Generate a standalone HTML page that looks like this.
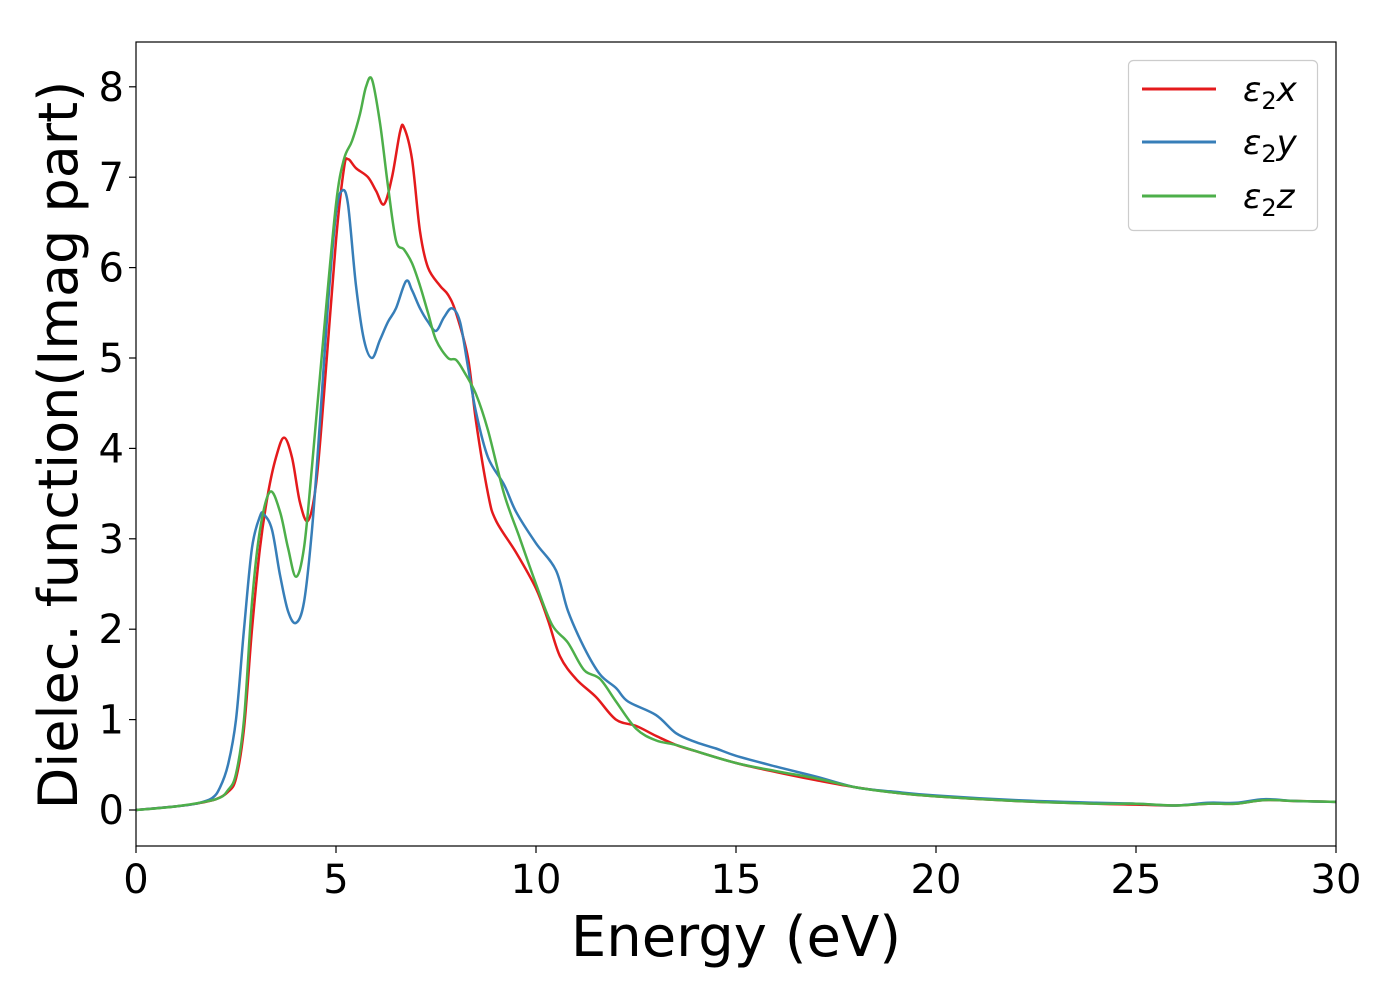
<!DOCTYPE html>
<html><head><meta charset="utf-8"><style>
body{margin:0;background:#fff}
svg text{font-family:"DejaVu Sans","Liberation Sans",sans-serif}
</style></head><body>
<svg id="chart" width="1400" height="1000" xmlns="http://www.w3.org/2000/svg">
<rect width="1400" height="1000" fill="#fff"/>
<g id="series"></g>
<rect x="136" y="42" width="1200" height="804" fill="none" stroke="#000" stroke-width="1.2"/>
<g id="xticks"></g>
<g id="yticks"></g>
<text x="736" y="956" font-size="56" text-anchor="middle">Energy (eV)</text>
<text transform="translate(77,445) rotate(-90)" font-size="54" text-anchor="middle">Dielec. function(Imag part)</text>
<g>
<rect x="1128.5" y="60.5" width="189" height="170" rx="5" fill="#fff" fill-opacity="0.8" stroke="#ccc" stroke-width="1.2"/>
<line x1="1142" y1="89" x2="1216" y2="89" stroke="#e41a1c" stroke-width="3"/>
<text x="1243" y="101" font-size="34" font-style="italic">ε<tspan font-style="normal" font-size="24" dy="8">2</tspan><tspan dy="-8">x</tspan></text>
<line x1="1142" y1="142" x2="1216" y2="142" stroke="#377eb8" stroke-width="3"/>
<text x="1243" y="154" font-size="34" font-style="italic">ε<tspan font-style="normal" font-size="24" dy="8">2</tspan><tspan dy="-8">y</tspan></text>
<line x1="1142" y1="196" x2="1216" y2="196" stroke="#4daf4a" stroke-width="3"/>
<text x="1243" y="208" font-size="34" font-style="italic">ε<tspan font-style="normal" font-size="24" dy="8">2</tspan><tspan dy="-8">z</tspan></text>
</g>
</svg>
<script>
const xTicks=[0,5,10,15,20,25,30];
const yTicks=[0,1,2,3,4,5,6,7,8];
const energyX=[0,1,1.5,2,2.3,2.5,2.7,2.9,3.1,3.3,3.5,3.7,3.9,4.1,4.3,4.5,4.7,5.0,5.2,5.3,5.5,5.8,6.0,6.2,6.4,6.6,6.7,6.9,7.1,7.3,7.6,7.8,8.0,8.3,8.5,8.8,9.0,9.5,10,10.3,10.6,11,11.5,12,12.5,13,13.5,14,15,16,17,18,19,20,22,24,25,26,26.8,27.5,28.2,29,30];
const epsX=[0,0.04,0.07,0.12,0.2,0.35,0.9,2.0,2.9,3.5,3.9,4.12,3.9,3.4,3.2,3.6,4.6,6.3,7.1,7.2,7.1,7.0,6.85,6.7,7.0,7.5,7.55,7.2,6.4,6.0,5.8,5.7,5.5,5.0,4.3,3.5,3.2,2.85,2.45,2.1,1.7,1.45,1.25,1.0,0.93,0.82,0.72,0.65,0.52,0.42,0.33,0.25,0.19,0.15,0.1,0.07,0.06,0.05,0.07,0.07,0.11,0.1,0.09];
const energyY=[0,1,1.5,1.9,2.1,2.3,2.5,2.7,2.9,3.1,3.2,3.4,3.6,3.8,4.0,4.2,4.4,4.6,4.8,5.0,5.15,5.3,5.5,5.7,5.9,6.1,6.3,6.5,6.75,6.9,7.1,7.3,7.5,7.7,7.9,8.1,8.3,8.5,8.8,9.2,9.5,10,10.5,10.8,11.2,11.6,12,12.3,13,13.5,14,14.5,15,16,17,18,19,20,22,24,25,26,26.8,27.5,28.2,29,30];
const epsY=[0,0.04,0.07,0.13,0.25,0.5,1.0,2.0,2.9,3.25,3.27,3.1,2.6,2.2,2.07,2.3,3.1,4.3,5.6,6.6,6.85,6.7,5.8,5.2,5.0,5.2,5.4,5.55,5.85,5.75,5.55,5.4,5.3,5.45,5.55,5.4,4.9,4.4,3.9,3.6,3.3,2.95,2.65,2.2,1.8,1.5,1.35,1.2,1.05,0.85,0.75,0.68,0.6,0.48,0.37,0.25,0.2,0.16,0.11,0.08,0.07,0.05,0.08,0.08,0.12,0.1,0.09];
const energyZ=[0,1,2,2.3,2.5,2.7,2.9,3.1,3.35,3.6,3.8,4.0,4.2,4.4,4.7,5.0,5.2,5.4,5.6,5.75,5.9,6.1,6.3,6.5,6.7,6.9,7.1,7.3,7.5,7.8,8.0,8.2,8.5,8.8,9.2,9.6,10,10.4,10.8,11.2,11.6,12,12.5,13,13.5,14,15,16,17,18,19,20,22,24,25,26,26.8,27.5,28.2,29,30];
const epsZ=[0,0.04,0.12,0.22,0.4,1.0,2.3,3.1,3.52,3.3,2.9,2.58,2.9,3.8,5.3,6.7,7.2,7.4,7.7,8.0,8.08,7.6,6.9,6.3,6.2,6.05,5.8,5.5,5.2,5.0,4.98,4.85,4.6,4.2,3.5,3.0,2.5,2.05,1.85,1.55,1.45,1.2,0.9,0.77,0.72,0.65,0.52,0.43,0.35,0.25,0.19,0.15,0.1,0.07,0.07,0.05,0.07,0.07,0.11,0.1,0.09];
const NS="http://www.w3.org/2000/svg";
const X0=136,X1=1336,Y0=810,YS=90.4;
function sx(v){return X0+(v-0)/(30-0)*(X1-X0);}
function sy(v){return Y0-v*YS;}
function pathFor(xs,ys){
  const p=xs.map((x,i)=>[sx(x),sy(ys[i])]);
  let d="M"+p[0][0]+","+p[0][1];
  for(let i=0;i<p.length-1;i++){
    const a=p[Math.max(0,i-1)],b=p[i],c=p[i+1],e=p[Math.min(p.length-1,i+2)];
    const c1=[b[0]+(c[0]-a[0])/6,b[1]+(c[1]-a[1])/6];
    const c2=[c[0]-(e[0]-b[0])/6,c[1]-(e[1]-b[1])/6];
    d+=" C"+c1[0].toFixed(1)+","+c1[1].toFixed(1)+" "+c2[0].toFixed(1)+","+c2[1].toFixed(1)+" "+c[0].toFixed(1)+","+c[1].toFixed(1);
  }
  return d;
}
const g=document.getElementById("series");
[[energyX,epsX,"#e41a1c","line-eps2x"],[energyY,epsY,"#377eb8","line-eps2y"],[energyZ,epsZ,"#4daf4a","line-eps2z"]].forEach(s=>{
  const el=document.createElementNS(NS,"path");
  el.setAttribute("d",pathFor(s[0],s[1]));
  el.setAttribute("fill","none");el.setAttribute("stroke",s[2]);el.setAttribute("stroke-width","2.5");
  
  
  g.appendChild(el);
});
const xg=document.getElementById("xticks");
xTicks.forEach(t=>{
  const l=document.createElementNS(NS,"line");
  l.setAttribute("x1",sx(t));l.setAttribute("x2",sx(t));l.setAttribute("y1",846);l.setAttribute("y2",853);l.setAttribute("stroke","#000");l.setAttribute("stroke-width","1.2");
  
  
  xg.appendChild(l);
  const tx=document.createElementNS(NS,"text");
  tx.setAttribute("x",sx(t));tx.setAttribute("y",893);tx.setAttribute("font-size","40");tx.setAttribute("text-anchor","middle");
  tx.textContent=t;
  
  
  xg.appendChild(tx);
});
const yg=document.getElementById("yticks");
yTicks.forEach(t=>{
  const l=document.createElementNS(NS,"line");
  l.setAttribute("x1",129);l.setAttribute("x2",136);l.setAttribute("y1",sy(t));l.setAttribute("y2",sy(t));l.setAttribute("stroke","#000");l.setAttribute("stroke-width","1.2");
  
  
  yg.appendChild(l);
  const tx=document.createElementNS(NS,"text");
  tx.setAttribute("x",124);tx.setAttribute("y",sy(t)+14);tx.setAttribute("font-size","40");tx.setAttribute("text-anchor","end");
  tx.textContent=t;
  
  
  yg.appendChild(tx);
});
</script>
</body></html>
